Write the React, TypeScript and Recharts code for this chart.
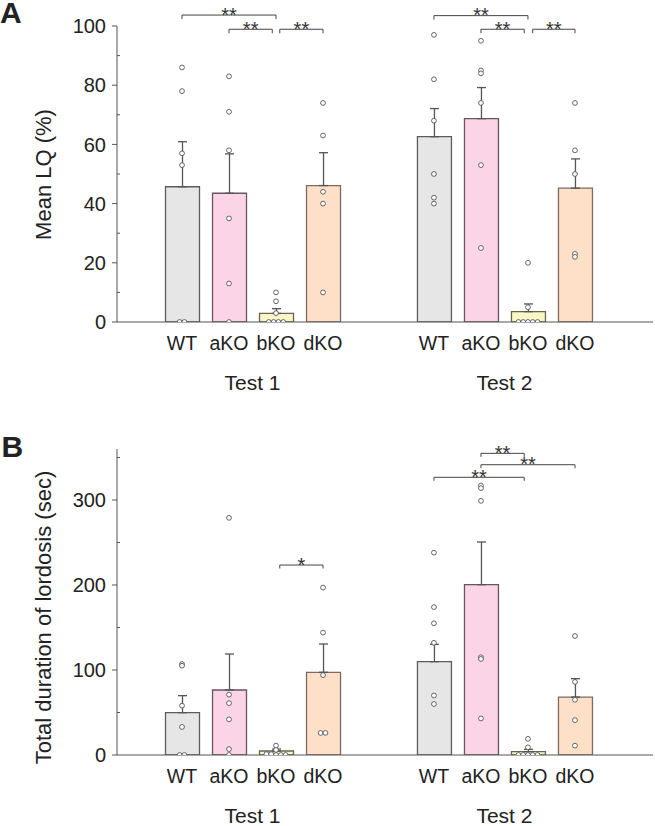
import React from 'react';
import {
  ComposedChart,
  Bar,
  Cell,
  ErrorBar,
  Scatter,
  XAxis,
  YAxis,
  ReferenceLine,
  ReferenceDot,
} from 'recharts';

const categories = ['WT', 'aKO', 'bKO', 'dKO'];
const tests = ['Test 1', 'Test 2'];

// A: mean LQ (%)
const lqMeanTest1 = [45.7, 43.5, 2.9, 46.1];
const lqSemTest1 = [15.2, 13.3, 1.6, 11.1];
const lqMeanTest2 = [62.6, 68.7, 3.5, 45.2];
const lqSemTest2 = [9.5, 10.5, 2.6, 9.9];
const lqPointsTest1 = [
  [86, 78, 57, 53, 0, 0],
  [83, 71, 58, 35, 13, 0],
  [10, 7, 3, 0, 0, 0, 0],
  [74, 63, 44, 40, 10],
];
const lqPointsTest2 = [
  [97, 82, 68, 50, 42, 40],
  [95, 85, 84, 74, 53, 25],
  [20, 5, 0, 0, 0, 0, 0],
  [74, 58, 50, 23, 22],
];
const lqTicks = [0, 20, 40, 60, 80, 100];
const lqMinorTicks = [10, 30, 50, 70, 90];

// B: total duration of lordosis (sec)
const durMeanTest1 = [49.8, 76.5, 4.7, 97.3];
const durSemTest1 = [20.0, 42.3, 2.3, 33.3];
const durMeanTest2 = [109.8, 200.4, 3.9, 68.2];
const durSemTest2 = [20.4, 50.2, 2.8, 21.6];
const durPointsTest1 = [
  [107, 105, 58, 33, 0, 0],
  [279, 71, 61, 42, 7, 0],
  [11, 6, 1, 1, 0, 0, 0],
  [197, 144, 94, 26, 26],
];
const durPointsTest2 = [
  [238, 174, 155, 132, 70, 60],
  [317, 314, 299, 115, 113, 43],
  [19, 9, 0, 0, 0, 0, 0],
  [140, 86, 65, 41, 11],
];
const durTicks = [0, 100, 200, 300];
const durMinorTicks = [50, 150, 250, 350];

// significance brackets: test index, from/to bar slot, height in data units
const sigA = [
  { test: 0, from: 0, to: 2, level: 103.7, label: '**' },
  { test: 0, from: 1, to: 1.92, level: 98.9, label: '**' },
  { test: 0, from: 2.08, to: 3, level: 98.9, label: '**' },
  { test: 1, from: 0, to: 2, level: 103.5, label: '**' },
  { test: 1, from: 1, to: 1.92, level: 98.9, label: '**' },
  { test: 1, from: 2.1, to: 3, level: 98.9, label: '**' },
];
const sigB = [
  { test: 0, from: 2.08, to: 3, level: 223.5, label: '*' },
  { test: 1, from: 1, to: 1.92, level: 354.9, label: '**' },
  { test: 1, from: 1, to: 3, level: 341.5, label: '**' },
  { test: 1, from: 0, to: 1.92, level: 326.7, label: '**' },
];

const barFills = ['#e6e6e6', '#fbd4e7', '#f9f5c6', '#fee0c9'];
const barStrokes = ['#5c5c5c', '#65565e', '#676550', '#7d6a5e'];

const W = 655;
const FONT = '"Liberation Sans", Arial, Helvetica, sans-serif';
const INK = '#222';
const AXIS = '#555';
const GROUP_STEP = 5.36;
const X_DOMAIN: [number, number] = [-1.383, 10.02];
const SLOT_PX = 47;
const DOT_GAP = 4.8;

// put near-equal values side by side, everything else stays on the bar centre
function swarm(values: number[], pxPerUnit: number) {
  const sorted = [...values].sort((a, b) => b - a);
  const rows: number[][] = [];
  sorted.forEach((v) => {
    const last = rows[rows.length - 1];
    if (last && Math.abs(last[0] - v) * pxPerUnit < 1.2) last.push(v);
    else rows.push([v]);
  });
  const out: { dx: number; v: number }[] = [];
  rows.forEach((row) =>
    row.forEach((v, i) => out.push({ dx: ((i - (row.length - 1) / 2) * DOT_GAP) / SLOT_PX, v }))
  );
  return out;
}

const dot = (p: any) => (
  <circle cx={p.cx} cy={p.cy} r={2.4} fill="#fff" stroke="#555" strokeWidth={0.9} />
);

function Panel({ means, sems, points, yMax, majors, minors, brackets, height, marginTop, xAxisH, legPx }: any) {
  const pxPerUnit = (height - marginTop - xAxisH) / yMax;
  const rows: any[] = [];
  const dots: any[] = [];
  tests.forEach((_, g) =>
    categories.forEach((_c, s) => {
      const x = g * GROUP_STEP + s;
      rows.push({ x, y: means[g][s], err: [0, sems[g][s]], cat: s });
      swarm(points[g][s], pxPerUnit).forEach((d) => dots.push({ x: x + d.dx, y: d.v }));
    })
  );

  const xTick = (p: any) => {
    const v = p.payload.value;
    const g = v > GROUP_STEP - 0.5 ? 1 : 0;
    const s = Math.round(v - g * GROUP_STEP);
    return (
      <text x={p.x} y={p.y + 27.7} textAnchor="middle" fontSize={19.5} fontFamily={FONT} fill={INK}>
        {categories[s]}
      </text>
    );
  };

  const yTick = (p: any) => {
    const v = p.payload.value;
    const major = majors.includes(v);
    return (
      <g>
        {major ? (
          <line x1={p.x - 5} x2={p.x} y1={p.y} y2={p.y} stroke={AXIS} strokeWidth={1} />
        ) : (
          <line x1={p.x} x2={p.x + 3} y1={p.y} y2={p.y} stroke={AXIS} strokeWidth={1} />
        )}
        {major && (
          <text x={p.x - 11} y={p.y + 7.2} textAnchor="end" fontSize={20} fontFamily={FONT} fill={INK}>
            {v}
          </text>
        )}
      </g>
    );
  };

  const legU = legPx / pxPerUnit;
  const lineProps = { stroke: '#444', strokeWidth: 1, ifOverflow: 'visible' as const };

  return (
    <ComposedChart width={W} height={height} data={rows} margin={{ top: marginTop, right: 2, bottom: 0, left: 0 }}>
      <XAxis
        type="number"
        dataKey="x"
        domain={X_DOMAIN}
        ticks={rows.map((r) => r.x)}
        interval={0}
        height={xAxisH}
        tickSize={0}
        tickMargin={0}
        tickLine={false}
        tick={xTick}
        stroke={AXIS}
        allowDataOverflow
      />
      {/* same scale, only so the dots don't shrink the bar band */}
      <XAxis xAxisId="dots" type="number" dataKey="x" domain={X_DOMAIN} hide allowDataOverflow />
      <YAxis
        type="number"
        domain={[0, yMax]}
        ticks={[...majors, ...minors].sort((a, b) => a - b)}
        interval={0}
        width={117}
        tickSize={0}
        tickMargin={0}
        tickLine={false}
        tick={yTick}
        stroke={AXIS}
        allowDataOverflow
      />
      <Bar dataKey="y" barSize={34} strokeWidth={1.3} isAnimationActive={false}>
        {rows.map((r, i) => (
          <Cell key={i} fill={barFills[r.cat]} stroke={barStrokes[r.cat]} />
        ))}
        <ErrorBar dataKey="err" direction="y" width={4.5} stroke={AXIS} strokeWidth={1.3} />
      </Bar>
      <Scatter xAxisId="dots" data={dots} dataKey="y" shape={dot} isAnimationActive={false} />
      {tests.map((t, g) => (
        <ReferenceDot
          key={t}
          x={g * GROUP_STEP + 1.5}
          y={0}
          r={0}
          ifOverflow="visible"
          shape={(p: any) => (
            <text x={p.cx} y={p.cy + 68} textAnchor="middle" fontSize={21} fontFamily={FONT} fill={INK}>
              {t}
            </text>
          )}
        />
      ))}
      {brackets.map((b: any, i: number) => {
        const x1 = b.test * GROUP_STEP + b.from;
        const x2 = b.test * GROUP_STEP + b.to;
        return [
          <ReferenceLine key={`h${i}`} segment={[{ x: x1, y: b.level }, { x: x2, y: b.level }]} {...lineProps} />,
          <ReferenceLine key={`l${i}`} segment={[{ x: x1, y: b.level }, { x: x1, y: b.level - legU }]} {...lineProps} />,
          <ReferenceLine key={`r${i}`} segment={[{ x: x2, y: b.level }, { x: x2, y: b.level - legU }]} {...lineProps} />,
          <ReferenceDot
            key={`s${i}`}
            x={(x1 + x2) / 2}
            y={b.level}
            r={0}
            ifOverflow="visible"
            shape={(p: any) => (
              <text x={p.cx} y={p.cy + 6.7} textAnchor="middle" fontSize={20} fontFamily={FONT} fill="#333">
                {b.label}
              </text>
            )}
          />,
        ];
      })}
    </ComposedChart>
  );
}

export default function App() {
  return (
    <div style={{ position: 'absolute', left: 0, top: 0, width: W, height: 826, background: '#fff' }}>
      <div style={{ position: 'absolute', left: 0, top: 0 }}>
        <Panel
          means={[lqMeanTest1, lqMeanTest2]}
          sems={[lqSemTest1, lqSemTest2]}
          points={[lqPointsTest1, lqPointsTest2]}
          yMax={100}
          majors={lqTicks}
          minors={lqMinorTicks}
          brackets={sigA}
          height={400}
          marginTop={26}
          xAxisH={78}
          legPx={4}
        />
      </div>
      <div style={{ position: 'absolute', left: 0, top: 420 }}>
        <Panel
          means={[durMeanTest1, durMeanTest2]}
          sems={[durSemTest1, durSemTest2]}
          points={[durPointsTest1, durPointsTest2]}
          yMax={360}
          majors={durTicks}
          minors={durMinorTicks}
          brackets={sigB}
          height={406}
          marginTop={29}
          xAxisH={71}
          legPx={3.5}
        />
      </div>
      <svg width={W} height={826} style={{ position: 'absolute', left: 0, top: 0, pointerEvents: 'none' }}>
        <text x={0} y={23} fontSize={30} fontWeight="bold" fontFamily={FONT} fill={INK}>A</text>
        <text x={1.5} y={457} fontSize={30} fontWeight="bold" fontFamily={FONT} fill={INK}>B</text>
        <text
          transform="translate(43,174.5) rotate(-90)"
          textAnchor="middle"
          dominantBaseline="central"
          fontSize={22}
          fontFamily={FONT}
          fill={INK}
        >
          Mean LQ (%)
        </text>
        <text
          transform="translate(43,617.5) rotate(-90)"
          textAnchor="middle"
          dominantBaseline="central"
          fontSize={22}
          fontFamily={FONT}
          fill={INK}
        >
          Total duration of lordosis (sec)
        </text>
      </svg>
    </div>
  );
}
